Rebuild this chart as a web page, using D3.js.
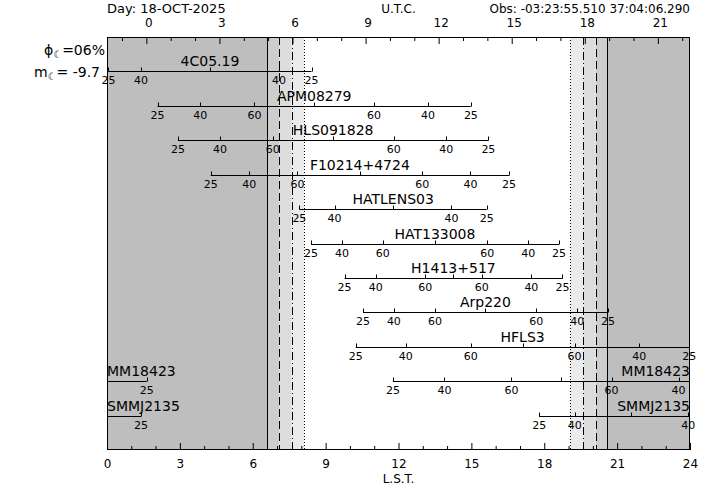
<!DOCTYPE html>
<html>
<head>
<meta charset="utf-8">
<script src="https://cdn.jsdelivr.net/npm/d3@7"></script>
<style>
  body { margin: 0; background: #fff; }
  svg { display: block; }
  text { font-family: "DejaVu Sans", sans-serif; fill: #000; }
</style>
</head>
<body>
<svg id="chart" width="714" height="495"></svg>
<script>
// ---------------- data (LST hours) ----------------
const sources = ["4C05.19","APM08279","HLS091828","F10214+4724","HATLENS03","HAT133008","H1413+517","Arp220","HFLS3","MM18423","SMMJ2135"];
const transit = [4.24, 8.53, 9.31, 10.41, 11.78, 13.50, 14.26, 15.58, 17.11, 18.71, 21.59];
const rise25  = [0.06, 2.08, 2.92, 4.27, 7.92, 8.40, 9.78, 10.54, 10.24, 11.77, 17.79];
const rise40  = [1.40, 3.84, 4.65, 5.86, 9.37, 9.67, 11.06, 11.81, 12.30, 13.89, 19.26];
const rise60  = [null, 6.07, 6.82, 7.84, null, 11.35, 13.10, 13.50, 14.97, 16.65, null];
const set60   = [null, 10.99, 11.80, 12.98, null, 15.65, 15.43, 17.67, 19.25, 20.77, null];
const set40   = [7.08, 13.21, 13.97, 14.96, 14.18, 17.34, 17.47, 19.36, 21.91, 23.53, 23.93];
const set25   = [8.42, 14.98, 15.70, 16.55, 15.63, 18.61, 18.75, 20.62, 23.97, 25.64, 25.40];
const elevLabels = ["25", "40", "60"];

// twilight boundaries (solid, dashed, dash-dot, dotted)
const eveningLST = [6.60, 7.09, 7.60, 8.11];
const morningLST = [20.60, 20.11, 19.61, 19.07];
const shades = ["#bebebe", "#cdcdcd", "#dcdcdc", "#ebebeb"];
const dashes = [null, "8,4", "8,3,1,3", "1,2"];

const lstTicks = d3.range(0, 25);
const lstMajor = [0, 3, 6, 9, 12, 15, 18, 21, 24];
const utcTicks = d3.range(-1, 23);
const utcMajor = [0, 3, 6, 9, 12, 15, 18, 21];
const utcOffset = 1.62;     // LST at 0h UTC
const siderealRatio = 1.0027;

const dayText = "Day: 18-OCT-2025";
const utcTitle = "U.T.C.";
const obsText = "Obs: -03:23:55.510 37:04:06.290";
const lstTitle = "L.S.T.";
const moonPhase = "06%";
const moonMag = "-9.7";

// ---------------- layout ----------------
const svg = d3.select("#chart");
const L = 107, R = 690, T = 37, B = 450;
const x = d3.scaleLinear().domain([0, 24]).range([L, R]);
const xu = d3.scaleLinear()
  .domain([-utcOffset / siderealRatio, (24 - utcOffset) / siderealRatio])
  .range([L, R]);
const y = d3.scalePoint().domain(sources).range([T, B]).padding(1);

// shading
const bands = [];
eveningLST.forEach((t, i) => bands.push({a: i === 0 ? 0 : eveningLST[i - 1], b: t, c: shades[i]}));
morningLST.forEach((t, i) => bands.push({a: t, b: i === 0 ? 24 : morningLST[i - 1], c: shades[i]}));
svg.append("g").selectAll("rect").data(bands).join("rect")
  .attr("x", d => x(d.a)).attr("y", T)
  .attr("width", d => x(d.b) - x(d.a)).attr("height", B - T)
  .attr("fill", d => d.c);

// twilight lines
const tl = [];
eveningLST.forEach((t, i) => tl.push({t, d: dashes[i]}));
morningLST.forEach((t, i) => tl.push({t, d: dashes[i]}));
svg.append("g").selectAll("line").data(tl).join("line")
  .attr("x1", d => Math.round(x(d.t)) + 0.5).attr("x2", d => Math.round(x(d.t)) + 0.5)
  .attr("y1", T).attr("y2", B)
  .attr("stroke", "#000").attr("stroke-width", 1)
  .attr("stroke-dasharray", d => d.d);

// source tracks
const rows = svg.append("g");
sources.forEach((name, i) => {
  const yy = Math.round(y(name)) + 0.5;
  const g = rows.append("g");
  const wrap = set25[i] > 24;
  const segs = wrap ? [[rise25[i], 24], [0, set25[i] - 24]] : [[rise25[i], set25[i]]];
  g.selectAll("line.seg").data(segs).join("line").attr("class", "seg")
    .attr("x1", d => x(d[0])).attr("x2", d => x(d[1]))
    .attr("y1", yy).attr("y2", yy)
    .attr("stroke", "#000").attr("stroke-width", 1);
  const ev = [
    {t: rise25[i], l: elevLabels[0]}, {t: rise40[i], l: elevLabels[1]}, {t: rise60[i], l: elevLabels[2]},
    {t: transit[i], l: ""},
    {t: set60[i], l: elevLabels[2]}, {t: set40[i], l: elevLabels[1]}, {t: set25[i], l: elevLabels[0]}
  ].filter(d => d.t !== null).map(d => ({t: d.t % 24, l: d.l}));
  g.selectAll("line.tk").data(ev).join("line").attr("class", "tk")
    .attr("x1", d => Math.round(x(d.t)) + 0.5).attr("x2", d => Math.round(x(d.t)) + 0.5)
    .attr("y1", yy - 4).attr("y2", yy)
    .attr("stroke", "#000").attr("stroke-width", 1);
  g.selectAll("text.el").data(ev.filter(d => d.l)).join("text").attr("class", "el")
    .attr("x", d => x(d.t)).attr("y", yy + 12.5)
    .attr("text-anchor", "middle").attr("font-size", 11)
    .text(d => d.l);
  if (wrap) {
    g.append("text").attr("x", L).attr("y", yy - 5.5).attr("font-size", 14).text(name);
    g.append("text").attr("x", R).attr("y", yy - 5.5).attr("font-size", 14)
      .attr("text-anchor", "end").text(name);
  } else {
    g.append("text").attr("x", x(transit[i])).attr("y", yy - 5.5).attr("font-size", 14)
      .attr("text-anchor", "middle").text(name);
  }
});

// frame
svg.append("rect").attr("x", L + 0.5).attr("y", T + 0.5)
  .attr("width", R - L - 1).attr("height", B - T - 1)
  .attr("fill", "none").attr("stroke", "#000").attr("stroke-width", 1);

// bottom axis (LST)
const styleAxis = g => {
  g.select(".domain").remove();
  g.selectAll(".tick line").attr("stroke", "#000");
  g.selectAll("text").attr("font-family", '"DejaVu Sans", sans-serif').attr("font-size", 12).attr("fill", "#000");
};
svg.append("g").attr("transform", `translate(0,${B})`)
  .call(d3.axisBottom(x).tickValues(lstTicks.filter(v => !lstMajor.includes(v))).tickSize(-4).tickFormat(""))
  .call(styleAxis);
svg.append("g").attr("transform", `translate(0,${B})`)
  .call(d3.axisBottom(x).tickValues(lstMajor).tickSize(-7).tickPadding(9).tickFormat(d3.format("d")))
  .call(styleAxis);

// top axis (UTC)
svg.append("g").attr("transform", `translate(0,${T})`)
  .call(d3.axisTop(xu).tickValues(utcTicks.filter(v => !utcMajor.includes(v))).tickSize(-4).tickFormat(""))
  .call(styleAxis);
svg.append("g").attr("transform", `translate(0,${T})`)
  .call(d3.axisTop(xu).tickValues(utcMajor).tickSize(-7).tickPadding(10).tickFormat(d3.format("d")))
  .call(styleAxis)
  .call(g => g.selectAll("text").attr("dx", 2));

// titles
svg.append("text").attr("x", L).attr("y", 12.5).attr("font-size", 13).text(dayText);
svg.append("text").attr("x", (L + R) / 2).attr("y", 12.5).attr("font-size", 12)
  .attr("text-anchor", "middle").text(utcTitle);
svg.append("text").attr("x", R).attr("y", 12.5).attr("font-size", 12)
  .attr("text-anchor", "end").text(obsText);
svg.append("text").attr("x", (L + R) / 2).attr("y", 482.5).attr("font-size", 12)
  .attr("text-anchor", "middle").text(lstTitle);

// moon info
const m1 = svg.append("text").attr("x", 105).attr("y", 55).attr("font-size", 14).attr("text-anchor", "end");
m1.append("tspan").text("ϕ");
m1.append("tspan").attr("font-size", 10).attr("dy", 3).text("☾");
m1.append("tspan").attr("dy", -3).text("=" + moonPhase);
const m2 = svg.append("text").attr("x", 100).attr("y", 77).attr("font-size", 14).attr("text-anchor", "end");
m2.append("tspan").text("m");
m2.append("tspan").attr("font-size", 10).attr("dy", 3).text("☾");
m2.append("tspan").attr("dy", -3).text("=  " + moonMag);
</script>
</body>
</html>
